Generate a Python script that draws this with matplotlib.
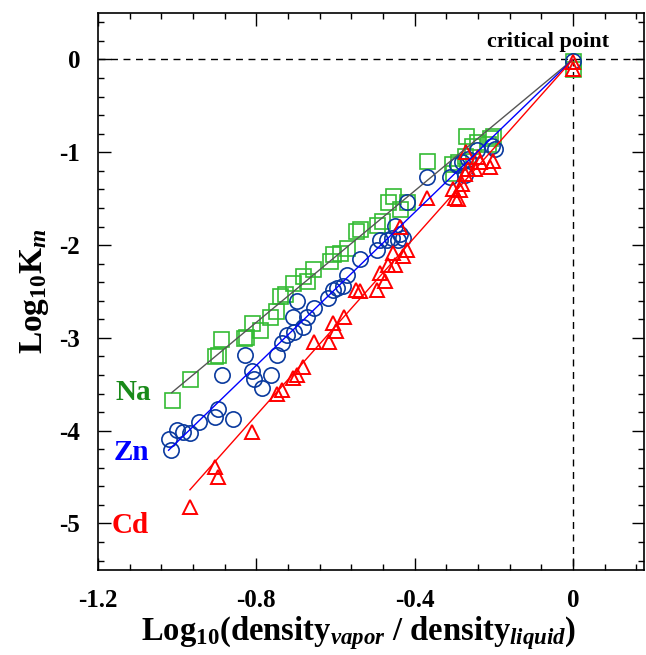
import matplotlib
matplotlib.use("Agg")
import matplotlib.pyplot as plt
from matplotlib.ticker import MultipleLocator
import numpy as np

plt.rcParams['font.family'] = ['Liberation Serif', 'DejaVu Serif']
plt.rcParams['font.weight'] = 'bold'
plt.rcParams['axes.labelweight'] = 'bold'
plt.rcParams['mathtext.fontset'] = 'custom'
plt.rcParams['mathtext.rm'] = 'Liberation Serif:bold'
plt.rcParams['mathtext.it'] = 'Liberation Serif:bold:italic'
plt.rcParams['mathtext.bf'] = 'Liberation Serif:bold'

# ---- data ----
na_x = [-1.013, -0.968, -0.905, -0.897, -0.890, -0.831, -0.827, -0.812, -0.791, -0.766,
        -0.750, -0.740, -0.728, -0.707, -0.681, -0.673, -0.656, -0.614, -0.606, -0.589,
        -0.572, -0.547, -0.538, -0.496, -0.483, -0.467, -0.454, -0.437, -0.420, -0.370,
        -0.306, -0.302, -0.290, -0.273, -0.269, -0.256, -0.243, -0.214, -0.210, -0.201,
        0.0, 0.0]
na_y = [-3.67, -3.44, -3.20, -3.18, -3.01, -3.00, -2.99, -2.84, -2.91, -2.78,
        -2.71, -2.55, -2.53, -2.41, -2.33, -2.39, -2.26, -2.17, -2.10, -2.08,
        -2.03, -1.85, -1.83, -1.78, -1.74, -1.54, -1.47, -1.61, -1.54, -1.09,
        -1.13, -1.22, -1.10, -1.04, -0.82, -0.93, -0.89, -0.91, -0.85, -0.82,
        -0.02, -0.10]

zn_x = [-1.016, -1.022, -1.001, -0.985, -0.968, -0.944, -0.904, -0.896, -0.860, -0.888,
        -0.829, -0.810, -0.806, -0.787, -0.764, -0.749, -0.736, -0.723, -0.704, -0.707,
        -0.681, -0.671, -0.654, -0.698, -0.618, -0.606, -0.597, -0.580, -0.572, -0.538,
        -0.496, -0.488, -0.471, -0.458, -0.441, -0.437, -0.429, -0.450, -0.420, -0.368,
        -0.311, -0.294, -0.281, -0.273, -0.264, -0.243, -0.205, -0.197, 0.0]
zn_y = [-4.21, -4.09, -3.99, -4.01, -4.02, -3.91, -3.85, -3.77, -3.87, -3.40,
        -3.18, -3.36, -3.44, -3.54, -3.40, -3.18, -3.06, -2.97, -2.94, -2.78,
        -2.88, -2.77, -2.68, -2.60, -2.57, -2.48, -2.46, -2.44, -2.32, -2.15,
        -2.05, -1.94, -1.94, -1.92, -1.94, -1.88, -1.92, -1.79, -1.54, -1.27,
        -1.27, -1.14, -1.10, -1.25, -1.07, -0.98, -0.93, -0.96, -0.02]

cd_x = [-0.968, -0.896, -0.904, -0.812, -0.749, -0.736, -0.707, -0.698, -0.681, -0.654,
        -0.616, -0.606, -0.599, -0.578, -0.547, -0.538, -0.496, -0.475, -0.488, -0.467,
        -0.450, -0.454, -0.429, -0.420, -0.437, -0.370, -0.302, -0.298, -0.290, -0.285,
        -0.281, -0.273, -0.264, -0.269, -0.248, -0.235, -0.210, -0.201, -0.239, 0.0, 0.0]
cd_y = [-4.82, -4.50, -4.39, -4.01, -3.60, -3.56, -3.43, -3.40, -3.31, -3.04,
        -3.04, -2.84, -2.93, -2.77, -2.48, -2.50, -2.48, -2.39, -2.30, -2.21,
        -2.21, -2.08, -2.12, -2.05, -1.81, -1.49, -1.40, -1.49, -1.50, -1.41,
        -1.34, -1.23, -1.18, -1.00, -1.18, -1.11, -1.16, -1.09, -1.05, -0.03, -0.10]

# fitted lines through the critical point (x start, slope)
fit_start = {'Na': -1.014, 'Zn': -1.022, 'Cd': -0.968}
fit_slope = {'Na': 3.54, 'Zn': 4.12, 'Cd': 4.79}

x_ticks = [-1.2, -0.8, -0.4, 0.0]
x_ticklabels = ['-1.2', '-0.8', '-0.4', '0']
y_ticks = [0, -1, -2, -3, -4, -5]
y_ticklabels = ['0', '-1', '-2', '-3', '-4', '-5']

# ---- figure ----
fig = plt.figure(figsize=(6.46, 6.55), dpi=100)
ax = fig.add_axes([0.152, 0.130, 0.845, 0.850])

ax.set_xlim(-1.2, 0.18)
ax.set_ylim(-5.5, 0.5)

# reference dashed lines
ax.axhline(0, color='black', lw=1.0, ls=(0, (5, 4)), zorder=1)
ax.plot([0, 0], [0, -5.5], color='black', lw=1.0, ls=(0, (5, 4)), zorder=1)

ax.plot(na_x, na_y, ls='none', marker='s', ms=10.8, mfc='none', mec='#33bb33', mew=1.2, zorder=3)
ax.plot(zn_x, zn_y, ls='none', marker='o', ms=11, mfc='none', mec='#0a3a9e', mew=1.2, zorder=3)
ax.plot(cd_x, cd_y, ls='none', marker='^', ms=10, mfc='none', mec='#ff0000', mew=1.4, zorder=3)

line_colors = {'Na': '#555555', 'Zn': '#0000ff', 'Cd': '#ff0000'}
for k in ['Na', 'Zn', 'Cd']:
    xs = np.array([fit_start[k], 0.0])
    ax.plot(xs, fit_slope[k] * xs, color=line_colors[k], lw=1.0, zorder=4)

# labels for the species
ax.text(-1.157, -3.59, 'Na', color='#1a8a1a', fontsize=21, fontweight='bold', va='center', ha='left')
ax.text(-1.162, -4.23, 'Zn', color='#0000ff', fontsize=21, fontweight='bold', va='center', ha='left')
ax.text(-1.165, -5.02, 'Cd', color='#ff0000', fontsize=21, fontweight='bold', va='center', ha='left')

ax.text(-0.063, 0.19, 'critical point', fontsize=16, fontweight='bold', ha='center', va='center')

ax.set_xticks(x_ticks)
ax.set_xticklabels(x_ticklabels)
ax.set_yticks(y_ticks)
ax.set_yticklabels(y_ticklabels)
ax.xaxis.set_minor_locator(MultipleLocator(0.08))
ax.yaxis.set_minor_locator(MultipleLocator(0.2))
ax.tick_params(which='both', direction='in', top=True, right=True, width=1.0)
ax.tick_params(which='major', length=9, labelsize=18)
ax.tick_params(axis='x', which='major', pad=14)
ax.tick_params(axis='y', which='major', pad=13)
ax.tick_params(which='minor', length=4.5)
for s in ax.spines.values():
    s.set_linewidth(1.2)

ax.set_xlabel(r'Log$_{10}$(density$_{vapor}$ / density$_{liquid}$)', fontsize=23.5, fontweight='bold')
ax.xaxis.set_label_coords(0.478, -0.08)
ax.set_ylabel(r'Log$_{10}$K$_{m}$', fontsize=24, fontweight='bold', labelpad=6)

fig.savefig('out.png', dpi=100)
